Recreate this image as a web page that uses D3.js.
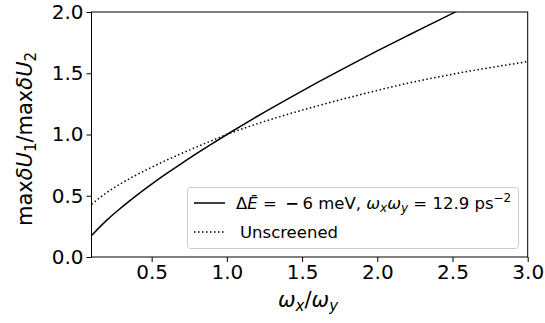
<!DOCTYPE html>
<html lang="en">
<head>
    <meta charset="UTF-8">
    <title>max dU ratio</title>
    <style>
        body { margin: 0; background: #fff; }
        text { font-family: "DejaVu Sans", sans-serif; }
    </style>
</head>
<body>
<script src="https://cdn.jsdelivr.net/npm/d3@7"></script>
<script>
    // screened curve (solid)
    var xScreened = [0.1, 0.2, 0.3, 0.4, 0.5, 0.6, 0.7, 0.8, 0.9, 1.0, 1.2, 1.4, 1.6, 1.8, 2.0, 2.2, 2.4, 2.6];
    var yScreened = [0.175, 0.299, 0.405, 0.503, 0.595, 0.682, 0.765, 0.846, 0.924, 1.0, 1.147, 1.287, 1.423, 1.554, 1.682, 1.806, 1.928, 2.05];
    // unscreened curve (dotted)
    var xUnscreened = [0.1, 0.2, 0.3, 0.4, 0.5, 0.6, 0.7, 0.8, 0.9, 1.0, 1.2, 1.4, 1.6, 1.8, 2.0, 2.2, 2.4, 2.6, 2.8, 3.0];
    var yUnscreened = [0.43, 0.525, 0.603, 0.671, 0.733, 0.791, 0.846, 0.899, 0.950, 1.0, 1.087, 1.163, 1.233, 1.298, 1.36, 1.418, 1.468, 1.515, 1.556, 1.595];
    var xTicks = [0.5, 1.0, 1.5, 2.0, 2.5, 3.0];
    var yTicks = [0.0, 0.5, 1.0, 1.5, 2.0];

    var width = 545, height = 323;
    var plotL = 91.5, plotR = 527.7, plotT = 12, plotB = 257;

    var svg = d3.select("body").append("svg")
        .attr("width", width)
        .attr("height", height);

    var x = d3.scaleLinear().domain([0.1, 3.0]).range([plotL, plotR]);
    var y = d3.scaleLinear().domain([0, 2]).range([plotB, plotT]);

    svg.append("clipPath").attr("id", "clip")
        .append("rect")
        .attr("x", plotL).attr("y", plotT)
        .attr("width", plotR - plotL).attr("height", plotB - plotT);

    var line = d3.line()
        .x(function (d) { return x(d[0]); })
        .y(function (d) { return y(d[1]); })
        .curve(d3.curveMonotoneX);

    var g = svg.append("g").attr("clip-path", "url(#clip)");

    g.append("path")
        .datum(d3.zip(xScreened, yScreened))
        .attr("d", line)
        .attr("fill", "none")
        .attr("stroke", "black")
        .attr("stroke-width", 1.5);

    g.append("path")
        .datum(d3.zip(xUnscreened, yUnscreened))
        .attr("d", line)
        .attr("fill", "none")
        .attr("stroke", "black")
        .attr("stroke-width", 1.5)
        .attr("stroke-dasharray", "1.5,2.5");

    /* axes */
    var xAxis = svg.append("g")
        .attr("transform", "translate(0," + plotB + ")")
        .call(d3.axisBottom(x).tickValues(xTicks).tickFormat(d3.format(".1f")).tickSize(5).tickPadding(3));
    var yAxis = svg.append("g")
        .attr("transform", "translate(" + plotL + ",0)")
        .call(d3.axisLeft(y).tickValues(yTicks).tickFormat(d3.format(".1f")).tickSize(5).tickPadding(3));

    [xAxis, yAxis].forEach(function (a) {
        a.select(".domain").remove();
        a.selectAll("line").attr("stroke", "black").attr("stroke-width", 1);
        a.selectAll("text")
            .attr("fill", "black")
            .attr("font-size", "20px")
            .attr("font-family", "DejaVu Sans");
    });

    /* frame */
    svg.append("rect")
        .attr("x", plotL).attr("y", plotT)
        .attr("width", plotR - plotL).attr("height", plotB - plotT)
        .attr("fill", "none")
        .attr("stroke", "black")
        .attr("stroke-width", 1);

    /* axis labels */
    var xl = svg.append("text")
        .attr("x", 308).attr("y", 307)
        .attr("text-anchor", "middle")
        .attr("font-size", "21px");
    xl.append("tspan").attr("font-style", "italic").text("ω");
    xl.append("tspan").attr("font-style", "italic").attr("font-size", "15px").attr("dy", 4).text("x");
    xl.append("tspan").attr("dy", -4).text("/");
    xl.append("tspan").attr("font-style", "italic").text("ω");
    xl.append("tspan").attr("font-style", "italic").attr("font-size", "15px").attr("dy", 4).text("y");

    var yl = svg.append("text")
        .attr("transform", "translate(32,139) rotate(-90)")
        .attr("text-anchor", "middle")
        .attr("font-size", "21px");
    yl.append("tspan").text("max");
    yl.append("tspan").attr("font-style", "italic").text("δU");
    yl.append("tspan").attr("font-size", "15px").attr("dy", 4).text("1");
    yl.append("tspan").attr("dy", -4).text("/max");
    yl.append("tspan").attr("font-style", "italic").text("δU");
    yl.append("tspan").attr("font-size", "15px").attr("dy", 4).text("2");

    /* legend */
    var lg = svg.append("g");
    lg.append("rect")
        .attr("x", 187.5).attr("y", 187.5)
        .attr("width", 331).attr("height", 61)
        .attr("rx", 3)
        .attr("fill", "white").attr("fill-opacity", 0.8)
        .attr("stroke", "#cccccc").attr("stroke-width", 1);

    lg.append("line")
        .attr("x1", 194).attr("x2", 225).attr("y1", 203).attr("y2", 203)
        .attr("stroke", "black").attr("stroke-width", 1.5);
    lg.append("line")
        .attr("x1", 194).attr("x2", 225).attr("y1", 232).attr("y2", 232)
        .attr("stroke", "black").attr("stroke-width", 1.5)
        .attr("stroke-dasharray", "1.5,2.5");

    var t1 = lg.append("text").attr("x", 236).attr("y", 209).attr("font-size", "16.5px");
    t1.append("tspan").text("Δ");
    t1.append("tspan").attr("font-style", "italic").text("E\u0304");
    t1.append("tspan").text(" = \u2009");
    t1.append("tspan").attr("font-weight", "bold").text("\u2212");
    t1.append("tspan").text("\u20096 meV, ");
    t1.append("tspan").attr("font-style", "italic").text("ω");
    t1.append("tspan").attr("font-style", "italic").attr("font-size", "12px").attr("dy", 3).text("x");
    t1.append("tspan").attr("font-style", "italic").attr("dy", -3).text("ω");
    t1.append("tspan").attr("font-style", "italic").attr("font-size", "12px").attr("dy", 3).text("y");
    t1.append("tspan").attr("dy", -3).text(" = 12.9 ps");
    t1.append("tspan").attr("font-size", "12px").attr("dy", -7).text("\u22122");

    lg.append("text").attr("x", 240).attr("y", 238).attr("font-size", "16.5px").text("Unscreened");
</script>
</body>
</html>
